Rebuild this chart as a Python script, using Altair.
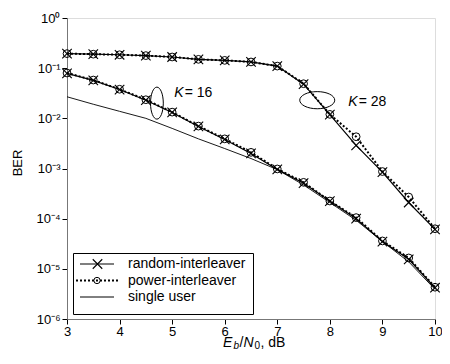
import altair as alt
import pandas as pd

# ---- data ----
snr = [3, 3.5, 4, 4.5, 5, 5.5, 6, 6.5, 7, 7.5, 8, 8.5, 9, 9.5, 10]

k28_random = [0.195, 0.19, 0.185, 0.178, 0.167, 0.150, 0.143, 0.133, 0.110, 0.048,
              0.0118, 0.0029, 0.00085, 0.00021, 6.1e-5]
k28_power = [0.195, 0.19, 0.185, 0.178, 0.167, 0.150, 0.143, 0.133, 0.110, 0.049,
             0.0120, 0.0043, 0.00087, 0.00027, 6.3e-5]
k16_random = [0.079, 0.057, 0.0375, 0.023, 0.0131, 0.0069, 0.0038, 0.0020, 0.00096,
              0.00051, 0.000224, 0.000100, 3.5e-5, 1.55e-5, 4.2e-6]
k16_power = [0.080, 0.058, 0.038, 0.0235, 0.0133, 0.0070, 0.0039, 0.0021, 0.00098,
             0.00053, 0.000225, 0.000105, 3.6e-5, 1.65e-5, 4.3e-6]
single_user = [0.0269, 0.0191, 0.0138, 0.0100, 0.0063, 0.0039, 0.0025, 0.00158,
               0.00095, 0.00047, 0.00021, 9.3e-5, 3.5e-5, 1.38e-5, 3.9e-6]

x_ticks = [3, 4, 5, 6, 7, 8, 9, 10]
y_ticks = [1e-6, 1e-5, 1e-4, 1e-3, 1e-2, 1e-1, 1]
y_tick_labels = ["10⁻⁶", "10⁻⁵", "10⁻⁴", "10⁻³", "10⁻²", "10⁻¹", "10⁰"]
legend_labels = ["random-interleaver", "power-interleaver", "single user"]

FONT = "Liberation Sans"
W, H = 368, 301

xs = alt.Scale(domain=[3, 10], nice=False, zero=False)
ys = alt.Scale(type="log", domain=[1e-6, 1], nice=False)

label_expr = "[" + ",".join("'%s'" % t for t in y_tick_labels) + "][round(log(datum.value)/LN10)+6]"

X = alt.X("snr:Q", scale=xs, axis=alt.Axis(values=x_ticks, title=None, grid=False,
          labelFontSize=13, labelFont=FONT, labelColor="black", tickSize=5,
          tickColor="black", domainColor="#777", labelPadding=1, labelFlush=False))
Y = alt.Y("ber:Q", scale=ys, axis=alt.Axis(values=y_ticks, title=None, grid=False,
          labelExpr=label_expr, labelFontSize=13, labelFont=FONT, labelColor="black",
          tickSize=5, tickColor="black", domainColor="#777", labelPadding=2,
          labelFlush=False))


def df(vals):
    return pd.DataFrame({"snr": snr, "ber": vals})


XPATH = "M-1,-1L1,1M-1,1L1,-1"

layers = []
# single user
layers.append(alt.Chart(df(single_user)).mark_line(color="black", strokeWidth=0.9)
              .encode(x=X, y=Y))
for vals in (k28_random, k16_random):
    base = alt.Chart(df(vals))
    layers.append(base.mark_line(color="black", strokeWidth=1.2).encode(x=X, y=Y))
    layers.append(base.mark_point(shape=XPATH, size=90, color="black", strokeWidth=1.1,
                                  filled=False, opacity=1).encode(x=X, y=Y))
for vals in (k28_power, k16_power):
    base = alt.Chart(df(vals))
    layers.append(base.mark_line(color="black", strokeWidth=2, strokeDash=[2, 2])
                  .encode(x=X, y=Y))
    layers.append(base.mark_point(shape="circle", size=60, color="black", strokeWidth=1,
                                  filled=False, opacity=1).encode(x=X, y=Y))

# annotation ellipses (data coordinates)
ell16 = pd.DataFrame({"snr": [4.71], "ber": [0.0201]})
ell28 = pd.DataFrame({"snr": [7.76], "ber": [0.0230]})
layers.append(alt.Chart(ell16).mark_point(
    shape="M-0.4,0A0.4,1 0 1,0 0.4,0A0.4,1 0 1,0 -0.4,0", size=1024,
    color="black", strokeWidth=1, filled=False, opacity=1).encode(x=X, y=Y))
layers.append(alt.Chart(ell28).mark_point(
    shape="M-1,0A1,0.49 0 1,0 1,0A1,0.49 0 1,0 -1,0", size=1225,
    color="black", strokeWidth=1, filled=False, opacity=1).encode(x=X, y=Y))

k16_pos = pd.DataFrame({"snr": [5.04], "ber": [0.0313]})
k16_eq = pd.DataFrame({"snr": [5.24], "ber": [0.0313]})
k28_pos = pd.DataFrame({"snr": [8.35], "ber": [0.0207]})
k28_eq = pd.DataFrame({"snr": [8.55], "ber": [0.0207]})
for d, t, st in ((k16_pos, "K", "italic"), (k16_eq, "= 16", "normal"),
                 (k28_pos, "K", "italic"), (k28_eq, "= 28", "normal")):
    layers.append(alt.Chart(d).mark_text(text=t, font=FONT, fontSize=14, fontStyle=st,
                                         align="left", baseline="middle", color="black")
                  .encode(x=X, y=Y))

one = alt.Data(values=[{"a": 1}])


def txt(t, x, y, size=14, style="normal", angle=0, align="left", baseline="alphabetic"):
    kw = dict(text=t, font=FONT, fontSize=size, fontStyle=style, align=align,
              baseline=baseline, color="black")
    if angle:
        kw["angle"] = angle
    return alt.Chart(one).mark_text(**kw).encode(x=alt.value(x), y=alt.value(y))


# legend box
layers.append(alt.Chart(one).mark_rect(fill="white", stroke="black", strokeWidth=1)
              .encode(x=alt.value(6.5), x2=alt.value(186.5), y=alt.value(235.5),
                      y2=alt.value(296.5)))
ly = [246, 262.5, 279]
layers.append(alt.Chart(one).mark_rule(color="black", strokeWidth=1.2)
              .encode(x=alt.value(13), x2=alt.value(47), y=alt.value(ly[0])))
layers.append(alt.Chart(one).mark_point(shape=XPATH, size=90, color="black",
                                        strokeWidth=1.1, filled=False, opacity=1)
              .encode(x=alt.value(30.5), y=alt.value(ly[0])))
layers.append(alt.Chart(one).mark_rule(color="black", strokeWidth=2, strokeDash=[2, 2])
              .encode(x=alt.value(9), x2=alt.value(51), y=alt.value(ly[1])))
layers.append(alt.Chart(one).mark_point(shape="circle", size=40, color="black",
                                        strokeWidth=1, filled=False, opacity=1)
              .encode(x=alt.value(30), y=alt.value(ly[1])))
layers.append(alt.Chart(one).mark_rule(color="black", strokeWidth=1)
              .encode(x=alt.value(13), x2=alt.value(47), y=alt.value(ly[2])))
for lab, yy in zip(legend_labels, ly):
    layers.append(txt(lab, 61, yy, size=14, baseline="middle"))

# axis titles
layers.append(txt("BER", -49, 145, size=13, angle=270, align="center", baseline="middle"))
tx, tb = 156, 328.5
layers.append(txt("E", tx, tb, style="italic"))
layers.append(txt("b", tx + 10.5, tb + 2.5, size=10, style="italic"))
layers.append(txt("/", tx + 16.5, tb))
layers.append(txt("N", tx + 20.5, tb, style="italic"))
layers.append(txt("0", tx + 31.5, tb + 2.5, size=10))
layers.append(txt(", dB", tx + 37.5, tb))

chart = alt.layer(*layers).properties(
    width=W, height=H,
    padding={"left": 59, "top": 10, "right": 7, "bottom": 31},
    autosize=alt.AutoSizeParams(type="none"),
).configure_view(stroke=None).configure(background="white")

chart.save("out.html", embed_options={"renderer": "svg", "actions": False})
